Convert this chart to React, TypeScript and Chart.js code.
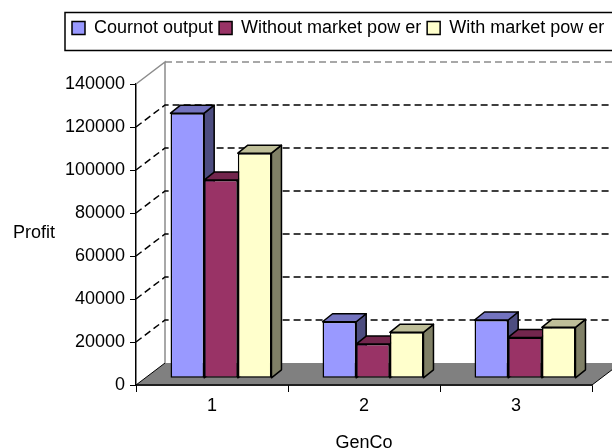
import React, { useEffect, useRef } from 'react';
import { Chart, registerables } from 'chart.js';

Chart.register(...registerables);

// ---- data ----
const categories = ['1', '2', '3'];
const seriesNames = ['Cournot output', 'Without market pow er', 'With market pow er'];
const cournotProfit = [123300, 26300, 27100];
const withoutPowerProfit = [92200, 15900, 19000];
const withPowerProfit = [104700, 21400, 23700];
const yTickValues = [0, 20000, 40000, 60000, 80000, 100000, 120000, 140000];
const xTitle = 'GenCo';
const yTitle = 'Profit';

// ---- style ----
const FONT = "'Liberation Sans', Arial, sans-serif";
const frontColors = ['#9999FF', '#993366', '#FFFFCC'];
const topColors = ['#7373BF', '#73264D', '#BFBF99'];
const sideColors = ['#4D4D80', '#4D1A33', '#808066'];
const WALL = { dx: 29, dy: -22 };
const BAR_SHIFT = { dx: 9, dy: -6.7 };
const BAR_DEPTH = { dx: 10, dy: -8 };
const LEGEND_HEIGHT = 71;

const threeD = {
  id: 'threeD',
  beforeLayout(chart: any) {
    const lg = chart.legend;
    if (lg && !lg.__patched) {
      const orig = lg.fit.bind(lg);
      lg.fit = function () {
        orig();
        this.height = LEGEND_HEIGHT;
      };
      lg.__patched = true;
    }
  },
  beforeDatasetsDraw(chart: any) {
    const { ctx, chartArea: a, scales } = chart;
    const ys = scales.y;
    const L = a.left, R = a.right, B = a.bottom;
    const W = chart.width + 20;
    ctx.save();
    // floor
    ctx.beginPath();
    ctx.moveTo(L, B);
    ctx.lineTo(R, B);
    ctx.lineTo(R + WALL.dx, B + WALL.dy);
    ctx.lineTo(L + WALL.dx, B + WALL.dy);
    ctx.closePath();
    ctx.fillStyle = '#808080';
    ctx.fill();
    ctx.strokeStyle = '#000';
    ctx.lineWidth = 1;
    ctx.beginPath();
    ctx.moveTo(L + WALL.dx, B + WALL.dy);
    ctx.lineTo(L, B);
    ctx.moveTo(R, B);
    ctx.lineTo(R + WALL.dx, B + WALL.dy);
    ctx.stroke();
    ctx.lineWidth = 1.5;
    ctx.beginPath();
    ctx.moveTo(L, B);
    ctx.lineTo(R, B);
    ctx.stroke();
    // walls
    const topF = ys.getPixelForValue(yTickValues[yTickValues.length - 1]);
    ctx.strokeStyle = '#8c8c8c';
    ctx.lineWidth = 1.5;
    ctx.beginPath();
    ctx.moveTo(L, topF);
    ctx.lineTo(L + WALL.dx, topF + WALL.dy);
    ctx.lineTo(L + WALL.dx, B + WALL.dy);
    ctx.stroke();
    ctx.setLineDash([7, 4]);
    ctx.beginPath();
    ctx.moveTo(L + WALL.dx, topF + WALL.dy);
    ctx.lineTo(W, topF + WALL.dy);
    ctx.stroke();
    // gridlines
    ctx.strokeStyle = '#000';
    ctx.lineWidth = 1.5;
    yTickValues.slice(1, -1).forEach((v) => {
      const py = ys.getPixelForValue(v);
      ctx.beginPath();
      ctx.moveTo(L, py);
      ctx.lineTo(L + WALL.dx, py + WALL.dy);
      ctx.lineTo(W, py + WALL.dy);
      ctx.stroke();
    });
    ctx.restore();

    // bars: side & top faces (fronts drawn by Chart.js, shifted)
    ctx.save();
    ctx.translate(BAR_SHIFT.dx, BAR_SHIFT.dy);
    ctx.lineWidth = 1.5;
    ctx.strokeStyle = '#000';
    ctx.lineJoin = 'round';
    chart.data.datasets.forEach((_ds: any, di: number) => {
      const meta = chart.getDatasetMeta(di);
      meta.data.forEach((el: any) => {
        const p = el.getProps(['x', 'y', 'base', 'width'], true);
        const x1 = p.x - p.width / 2;
        const x2 = p.x + p.width / 2;
        const t = p.y;
        const b = p.base;
        // side
        ctx.beginPath();
        ctx.moveTo(x2, t);
        ctx.lineTo(x2 + BAR_DEPTH.dx, t + BAR_DEPTH.dy);
        ctx.lineTo(x2 + BAR_DEPTH.dx, b + BAR_DEPTH.dy);
        ctx.lineTo(x2, b);
        ctx.closePath();
        ctx.fillStyle = sideColors[di];
        ctx.fill();
        ctx.stroke();
        // top
        ctx.beginPath();
        ctx.moveTo(x1, t);
        ctx.lineTo(x2, t);
        ctx.lineTo(x2 + BAR_DEPTH.dx, t + BAR_DEPTH.dy);
        ctx.lineTo(x1 + BAR_DEPTH.dx, t + BAR_DEPTH.dy);
        ctx.closePath();
        ctx.fillStyle = topColors[di];
        ctx.fill();
        ctx.stroke();
      });
    });
  },
  afterDatasetsDraw(chart: any) {
    chart.ctx.restore();
  },
  afterDraw(chart: any) {
    const { ctx } = chart;
    ctx.save();
    ctx.strokeStyle = '#000';
    ctx.lineWidth = 1.5;
    ctx.strokeRect(65, 12.5, 600, 38);
    ctx.restore();
  },
};

export default function App() {
  const ref = useRef<HTMLCanvasElement>(null);
  useEffect(() => {
    if (!ref.current) return;
    Chart.defaults.color = '#000';
    const seriesValues = [cournotProfit, withoutPowerProfit, withPowerProfit];
    const chart = new Chart(ref.current, {
      type: 'bar',
      data: {
        labels: categories,
        datasets: seriesValues.map((vals, i) => ({
          label: seriesNames[i],
          data: vals,
          backgroundColor: frontColors[i],
          borderColor: '#000',
          borderWidth: 1.5,
          borderSkipped: false,
          barPercentage: 1,
          categoryPercentage: 0.664,
          clip: false as any,
        })),
      },
      options: {
        responsive: false,
        animation: false,
        layout: { padding: { left: 66, right: -40, top: 13, bottom: 0 } },
        plugins: {
          legend: {
            position: 'top',
            align: 'start',
            labels: {
              font: { size: 18, family: FONT },
              color: '#000',
              boxWidth: 13,
              boxHeight: 13,
              padding: 6,
            },
          },
          tooltip: { enabled: false },
        },
        scales: {
          x: {
            grid: {
              offset: true,
              drawOnChartArea: false,
              tickLength: 7,
              color: '#000',
              lineWidth: 1,
            },
            border: { color: '#000', width: 1.5 },
            ticks: { font: { size: 18, family: FONT }, color: '#000', padding: 3 },
            title: {
              display: true,
              text: xTitle,
              font: { size: 18, family: FONT },
              color: '#000',
              padding: { top: 4, bottom: -6 },
            },
            afterFit: (s: any) => {
              s.height = 63;
              s.paddingRight = 20;
            },
          },
          y: {
            min: yTickValues[0],
            max: yTickValues[yTickValues.length - 1],
            afterBuildTicks: (s: any) => {
              s.ticks = yTickValues.map((v) => ({ value: v }));
            },
            grid: {
              drawOnChartArea: false,
              tickLength: 6,
              color: '#000',
              lineWidth: 1,
            },
            border: { color: '#000', width: 1.5 },
            ticks: {
              font: { size: 18, family: FONT },
              color: '#000',
              padding: 5,
              callback: (v: any) => String(v),
            },
            afterFit: (s: any) => {
              s.width = 70;
            },
          },
        },
      },
      plugins: [threeD],
    });
    return () => chart.destroy();
  }, []);

  return (
    <div style={{ position: 'absolute', left: 0, top: 0, width: 612, height: 448, background: '#fff' }}>
      <canvas ref={ref} width={612} height={448} style={{ display: 'block' }} />
      <div
        style={{
          position: 'absolute',
          left: 13,
          top: 221,
          fontFamily: FONT,
          fontSize: 18,
          lineHeight: '22px',
          color: '#000',
        }}
      >
        {yTitle}
      </div>
    </div>
  );
}
